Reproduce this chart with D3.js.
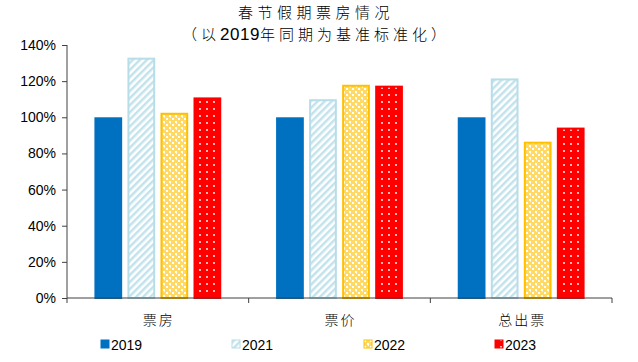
<!DOCTYPE html>
<html>
<head>
<meta charset="utf-8">
<script src="https://cdn.jsdelivr.net/npm/d3@7"></script>
<style>
  body { margin: 0; background: #fff; }
  text { font-family: "Liberation Sans", Arial, sans-serif; }
  .cjk { font-family: "Noto Sans CJK SC", sans-serif; font-weight: 300; }
</style>
</head>
<body>
<svg id="chart" width="638" height="362"></svg>
<script>
const categories = ["票房", "票价", "总出票"];
const years = ["2019", "2021", "2022", "2023"];
const v2019 = [1.00, 1.00, 1.00];
const v2021 = [1.33, 1.10, 1.215];
const v2022 = [1.025, 1.18, 0.865];
const v2023 = [1.11, 1.175, 0.943];
const yTicks = [0, 0.2, 0.4, 0.6, 0.8, 1.0, 1.2, 1.4];

const seriesValues = [v2019, v2021, v2022, v2023];

const svg = d3.select("#chart");
const margin = { left: 67, right: 26, top: 45, bottom: 64 };
const width = 638, height = 362;

const x = d3.scaleBand()
  .domain(categories)
  .range([margin.left, width - margin.right])
  .paddingInner(0)
  .paddingOuter(0);

const inner = d3.scaleBand()
  .domain(years)
  .range([0, x.bandwidth()])
  .paddingInner(0.16)
  .paddingOuter(0.83);

const y = d3.scaleLinear()
  .domain([0, 1.4])
  .range([height - margin.bottom, margin.top]);

// patterns
const defs = svg.append("defs");

const stripe = defs.append("pattern")
  .attr("id", "p2021")
  .attr("patternUnits", "userSpaceOnUse")
  .attr("width", 5).attr("height", 5)
  .attr("patternTransform", "rotate(45)");
stripe.append("rect").attr("width", 5).attr("height", 5).attr("fill", "#ffffff");
stripe.append("rect").attr("width", 2.5).attr("height", 5).attr("fill", "#c3e3ec");

const lattice = defs.append("pattern")
  .attr("id", "p2022")
  .attr("patternUnits", "userSpaceOnUse")
  .attr("width", 6).attr("height", 6);
lattice.append("rect").attr("width", 6).attr("height", 6).attr("fill", "#ffd966");
lattice.append("rect").attr("x", 1).attr("y", 1).attr("width", 2).attr("height", 2).attr("fill", "#ffffff");
lattice.append("rect").attr("x", 4).attr("y", 4).attr("width", 2).attr("height", 2).attr("fill", "#ffffff");
lattice.append("rect").attr("x", 2).attr("y", 3).attr("width", 1).attr("height", 1).attr("fill", "#fff3cc");

const dots = defs.append("pattern")
  .attr("id", "p2023")
  .attr("patternUnits", "userSpaceOnUse")
  .attr("width", 7).attr("height", 7);
dots.append("rect").attr("width", 7).attr("height", 7).attr("fill", "#ff0000");
dots.append("rect").attr("x", 3).attr("y", 3).attr("width", 2).attr("height", 2).attr("fill", "#ffb4b4");

const fills = {
  "2019": "#0070c0",
  "2021": "url(#p2021)",
  "2022": "url(#p2022)",
  "2023": "url(#p2023)"
};
const strokes = {
  "2019": "#0070c0",
  "2021": "#b7dde8",
  "2022": "#ffc000",
  "2023": "#ff0000"
};

// title
svg.append("text")
  .attr("class", "cjk")
  .attr("x", 316).attr("y", 18)
  .attr("text-anchor", "middle")
  .attr("font-size", 15)
  .attr("letter-spacing", 4.5)
  .attr("fill", "#000")
  .text("春节假期票房情况");
const sub = svg.append("text")
  .attr("class", "cjk")
  .attr("x", 316).attr("y", 40)
  .attr("text-anchor", "middle")
  .attr("font-size", 15)
  .attr("letter-spacing", 4)
  .attr("fill", "#000");
sub.append("tspan").text("（以");
sub.append("tspan")
  .style("font-family", "Liberation Sans, Arial, sans-serif")
  .style("font-weight", 400)
  .attr("font-size", 17)
  .attr("letter-spacing", 0.5)
  .text("2019");
sub.append("tspan").text("年同期为基准标准化）");

// bars
years.forEach(function(yr, i) {
  svg.append("g")
    .selectAll("rect")
    .data(categories)
    .enter()
    .append("rect")
    .attr("x", function(c) { return x(c) + inner(yr) + 1; })
    .attr("y", function(c, j) { return y(seriesValues[i][j]) + 1; })
    .attr("width", inner.bandwidth() - 2)
    .attr("height", function(c, j) { return y(0) - y(seriesValues[i][j]) - 1; })
    .attr("fill", fills[yr])
    .attr("stroke", strokes[yr])
    .attr("stroke-width", 2);
});

// y axis
const yAxis = svg.append("g")
  .attr("transform", "translate(" + margin.left + ",0)")
  .call(d3.axisLeft(y).tickValues(yTicks).tickFormat(d3.format(".0%")).tickSize(5).tickPadding(6));
yAxis.selectAll("text").attr("font-size", 14).attr("fill", "#000").style("font-family", "Liberation Sans, Arial, sans-serif");
yAxis.selectAll("line").attr("stroke", "#404040");
yAxis.select(".domain").attr("stroke", "#404040").attr("d", "M0," + y(0) + "V" + y(1.4));

// x axis
const xAxis = svg.append("g")
  .attr("transform", "translate(0," + y(0) + ")");
xAxis.append("line")
  .attr("x1", margin.left).attr("x2", width - margin.right)
  .attr("stroke", "#404040");
xAxis.selectAll("line.tick")
  .data(categories.concat(["end"]))
  .enter()
  .append("line")
  .attr("class", "tick")
  .attr("x1", function(c, i) { return i < categories.length ? x(c) : x.range()[1]; })
  .attr("x2", function(c, i) { return i < categories.length ? x(c) : x.range()[1]; })
  .attr("y1", 0).attr("y2", 5)
  .attr("stroke", "#404040");
xAxis.selectAll("text")
  .data(categories)
  .enter()
  .append("text")
  .attr("class", "cjk")
  .attr("x", function(c) { return x(c) + x.bandwidth() / 2 + 1; })
  .attr("y", 27)
  .attr("text-anchor", "middle")
  .attr("font-size", 14)
  .attr("letter-spacing", 2)
  .attr("fill", "#000")
  .text(function(c) { return c; });

// legend
const legendX = [100, 231, 363, 494];
const legend = svg.append("g");
years.forEach(function(yr, i) {
  legend.append("rect")
    .attr("x", legendX[i] + 1).attr("y", 340)
    .attr("width", 8).attr("height", 8)
    .attr("fill", i === 0 ? "#0070c0" : fills[yr])
    .attr("stroke", strokes[yr])
    .attr("stroke-width", 1);
  legend.append("text")
    .attr("x", legendX[i] + 11).attr("y", 350)
    .attr("font-size", 14)
    .attr("fill", "#000")
    .text(yr);
});
</script>
</body>
</html>
